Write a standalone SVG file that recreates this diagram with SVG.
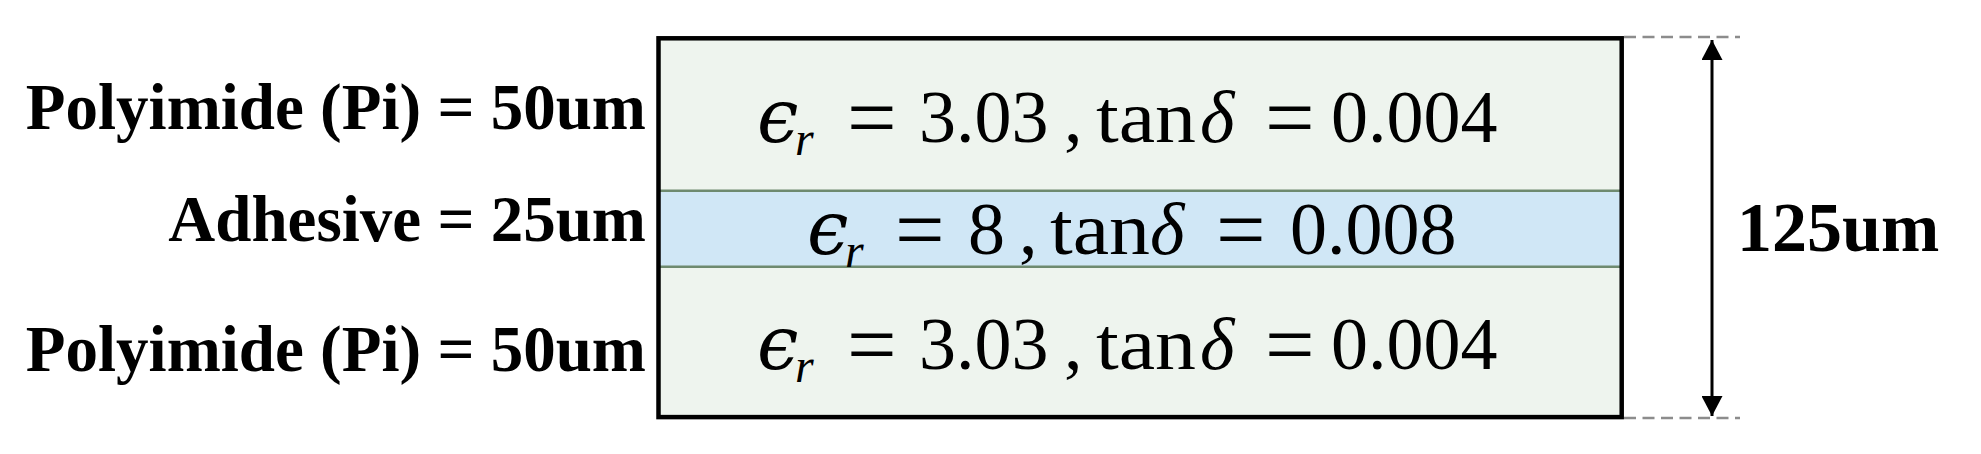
<svg xmlns="http://www.w3.org/2000/svg" width="1981" height="454" viewBox="0 0 1981 454">
  <defs>
    <style>
      .lbl { font-family: "Liberation Serif", "Times New Roman", serif; font-weight: bold; font-size: 65px; fill: #000; }
      .dim { font-family: "Liberation Serif", "Times New Roman", serif; font-weight: bold; font-size: 70px; fill: #000; }
      .m { font-family: "Liberation Serif", "DejaVu Serif", serif; font-size: 74px; fill: #000; }
      .it { font-style: italic; }
      .eps { font-family: "DejaVu Serif", serif; font-style: italic; font-size: 74px; fill: #000; }
      .sub { font-family: "Liberation Serif", "DejaVu Serif", serif; font-style: italic; font-size: 48px; fill: #000; }
      .eq { font-family: "Liberation Serif", "DejaVu Serif", serif; font-size: 88px; fill: #000; }
      .sep { stroke: #6e8a6f; stroke-width: 2.5; }
      .dash { stroke: #8c8c8c; stroke-width: 2.5; stroke-dasharray: 12 6.5; fill: none; }
    </style>
    <marker id="ah" viewBox="0 0 20 21" refX="20" refY="10.5" markerWidth="20" markerHeight="21" markerUnits="userSpaceOnUse" orient="auto-start-reverse">
      <path d="M0,0 L20,10.5 L0,21 Z" fill="#000"/>
    </marker>
  </defs>
  <rect width="1981" height="454" fill="#fff"/>

  <g id="stack">
    <rect x="658.5" y="38.3" width="963.2" height="378.8" fill="#eef4ee"/>
    <g id="layer-adhesive">
      <rect x="658.5" y="190.7" width="963.2" height="76" fill="#d0e7f6"/>
      <line class="sep" x1="658.5" y1="190.7" x2="1621.7" y2="190.7"/>
      <line class="sep" x1="658.5" y1="266.7" x2="1621.7" y2="266.7"/>
    </g>
    <rect x="658.5" y="38.3" width="963.2" height="378.8" fill="none" stroke="#000" stroke-width="4.5"/>
  </g>

  <g id="layer-top">
    <text class="lbl" x="646" y="129" text-anchor="end">Polyimide (Pi) = 50um</text>
    <g id="props-top">
      <text class="eps" x="757" y="142">ϵ</text>
      <text class="sub" x="795" y="155">r</text>
      <text class="eq" x="847" y="147">=</text>
      <text class="m" x="919" y="142">3.03</text>
      <text class="m" x="1064" y="142">,</text>
      <text class="m" x="1096" y="142" textLength="100" lengthAdjust="spacingAndGlyphs">tan</text>
      <text class="m it" x="1200" y="142">δ</text>
      <text class="eq" x="1265" y="147">=</text>
      <text class="m" x="1331" y="142">0.004</text>
    </g>
  </g>

  <g id="layer-adhesive-text">
    <text class="lbl" x="646" y="241" text-anchor="end">Adhesive = 25um</text>
    <g id="props-adhesive">
      <text class="eps" x="807" y="254">ϵ</text>
      <text class="sub" x="845" y="267">r</text>
      <text class="eq" x="895" y="259">=</text>
      <text class="m" x="968" y="254">8</text>
      <text class="m" x="1019" y="254">,</text>
      <text class="m" x="1050" y="254" textLength="100" lengthAdjust="spacingAndGlyphs">tan</text>
      <text class="m it" x="1150" y="254">δ</text>
      <text class="eq" x="1216" y="259">=</text>
      <text class="m" x="1290" y="254">0.008</text>
    </g>
  </g>

  <g id="layer-bottom">
    <text class="lbl" x="646" y="371" text-anchor="end">Polyimide (Pi) = 50um</text>
    <g id="props-bottom">
      <text class="eps" x="757" y="369">ϵ</text>
      <text class="sub" x="795" y="382">r</text>
      <text class="eq" x="847" y="374">=</text>
      <text class="m" x="919" y="369">3.03</text>
      <text class="m" x="1064" y="369">,</text>
      <text class="m" x="1096" y="369" textLength="100" lengthAdjust="spacingAndGlyphs">tan</text>
      <text class="m it" x="1200" y="369">δ</text>
      <text class="eq" x="1265" y="374">=</text>
      <text class="m" x="1331" y="369">0.004</text>
    </g>
  </g>

  <g id="connectors">
    <line class="dash" x1="1624" y1="37" x2="1740" y2="37"/>
    <line class="dash" x1="1624" y1="418" x2="1740" y2="418"/>
    <line x1="1712" y1="40" x2="1712" y2="416" stroke="#000" stroke-width="3" marker-start="url(#ah)" marker-end="url(#ah)"/>
  </g>

  <g id="dimension-label">
    <text class="dim" x="1737" y="251">125um</text>
  </g>
</svg>
